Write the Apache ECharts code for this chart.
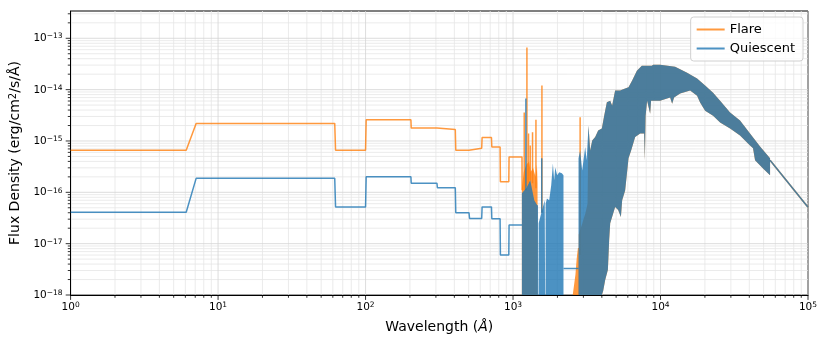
<!DOCTYPE html>
<html>
<head>
<meta charset="utf-8">
<script src="https://cdn.jsdelivr.net/npm/echarts@6/dist/echarts.min.js"></script>
<style>
html, body { margin: 0; padding: 0; background: #fff; }
#chart { width: 830px; height: 346px; }
</style>
</head>
<body>
<div id="chart"></div>
<script>
// values: [wavelength (Å), flux density (erg/cm2/s/Å)]

// binned part of the spectra
var flareSteps = [[1, 6.6e-16], [6.08, 6.6e-16], [7.1, 2.2e-15], [61.8, 2.2e-15], [62.6, 6.6e-16], [100, 6.6e-16],
  [101, 2.6e-15], [203, 2.6e-15], [204, 1.78e-15], [305, 1.78e-15], [307, 1.67e-15], [406, 1.67e-15],
  [409, 6.6e-16], [503, 6.6e-16], [507, 7.2e-16], [613, 7.2e-16], [617, 1.17e-15], [714, 1.17e-15],
  [718, 7.6e-16], [817, 7.6e-16], [821, 1.6e-16], [936, 1.6e-16], [940, 4.9e-16], [1150, 4.9e-16], [1153, 1.1e-16]];
var quietSteps = [[1, 4.1e-17], [6.08, 4.1e-17], [7.1, 1.87e-16], [61.8, 1.87e-16], [62.6, 5.2e-17], [100, 5.2e-17],
  [101, 2.0e-16], [203, 2.0e-16], [204, 1.5e-16], [305, 1.5e-16], [307, 1.23e-16], [406, 1.23e-16],
  [409, 4.0e-17], [503, 4.0e-17], [507, 3.1e-17], [613, 3.1e-17], [617, 5.2e-17], [714, 5.2e-17],
  [718, 3.05e-17], [817, 3.05e-17], [821, 6e-18], [936, 6e-18], [940, 2.3e-17], [1150, 2.3e-17]];
var quietFlat = [[2198, 3.3e-18], [2780, 3.3e-18]];
var tail = [[55300, 4.2e-16], [100000, 5.1e-17]];

// densely sampled part: envelopes of the filled-looking region (1e-18 = axis floor)
var flareBand1 = [[1148, 1e-18], [1148, 1.2e-16], [1182, 2.5e-16], [1234, 3.5e-16], [1284, 4e-16], [1318, 2.5e-16],
  [1367, 3e-16], [1420, 2e-16], [1452, 3.5e-16], [1466, 1.5e-16], [1470, 1e-18]];
var flareBand2 = [[2540, 1e-18], [2650, 2.5e-18], [2700, 5e-18], [2753, 8.2e-18], [2800, 8.2e-18], [2800, 1e-18]];
// flare rises into the shared envelope a little later than the quiescent spectrum
var flareLead = [[2780, 1e-18], [2790, 1.5e-17], [2950, 2.5e-17], [3100, 4e-17], [3200, 6e-17]];
var quietBand1 = [[1148, 1e-18], [1148, 9.6e-17], [1191, 1.09e-16], [1230, 1.2e-16], [1308, 1.71e-16], [1393, 7e-17],
  [1459, 5.6e-17], [1476, 5.6e-17], [1478, 1e-18], [1490, 1e-18], [1492, 2.5e-17], [1553, 3.9e-17], [1640, 7e-17],
  [1650, 1e-18], [1662, 1e-18], [1664, 6e-17], [1698, 7.6e-17], [1759, 7e-17], [1815, 1.37e-16], [1863, 3.66e-16],
  [1901, 1.71e-16], [1932, 3.06e-16], [1992, 2.14e-16], [2056, 2.45e-16], [2143, 2.34e-16], [2198, 2.14e-16], [2198, 1e-18]];
var sharedTop = [[2780, 4.6e-16], [2851, 6.5e-16], [2944, 2.67e-16], [3085, 7.6e-16], [3157, 4.2e-16], [3249, 2.0e-15],
  [3334, 6.5e-16], [3444, 1.02e-15], [3606, 1.19e-15], [3778, 1.6e-15], [4001, 1.75e-15], [4150, 3.1e-15],
  [4327, 5.7e-15], [4558, 6.1e-15], [4699, 4.9e-15], [4924, 9.6e-15], [5323, 9.6e-15], [5756, 1.05e-14],
  [6068, 1.11e-14], [6424, 1.5e-14], [6915, 2.34e-14], [7469, 2.92e-14], [8730, 2.92e-14], [8913, 3.06e-14],
  [9935, 3.06e-14], [12560, 2.8e-14], [15140, 2.14e-14], [17700, 1.64e-14], [20060, 1.2e-14], [22720, 8.7e-15],
  [25350, 6.1e-15], [29630, 3.6e-15], [34600, 2.5e-15], [40450, 1.4e-15], [47300, 7.8e-16], [55300, 4.6e-16]];
var sharedBottom = [[2780, 1e-18], [4001, 1e-18], [4083, 1.2e-18], [4215, 1.96e-18], [4396, 3.1e-18], [4485, 1.17e-17],
  [4558, 2.5e-17], [4924, 5.2e-17], [5162, 4.5e-17], [5386, 3.3e-17], [5495, 7e-17], [5756, 1.09e-16],
  [6068, 4.6e-16], [6320, 6.5e-16], [6730, 1.19e-15], [7276, 1.4e-15], [7745, 1.4e-15], [7830, 4.2e-16],
  [7925, 3.1e-15], [8111, 6.1e-15], [8506, 3.4e-15], [8630, 6.1e-15], [9935, 6.1e-15], [11620, 7.0e-15],
  [11990, 5.3e-15], [12360, 7.0e-15], [13580, 8.4e-15], [15880, 9.6e-15], [17700, 7.6e-15], [18550, 5.6e-15],
  [20060, 3.9e-15], [22720, 3.1e-15], [25350, 2.29e-15], [29630, 1.75e-15], [34600, 1.28e-15], [40450, 8.2e-16],
  [42390, 7.2e-16], [43750, 4.2e-16], [49550, 2.9e-16], [55300, 2.14e-16]];

// narrow emission spikes: [wavelength, from, to]
var flareSpikes = [[1191, 1.1e-16, 3.6e-15], [1242, 1.3e-16, 6.6e-14], [1274, 1.5e-16, 1.4e-15], [1308, 1.7e-16, 8.2e-16],
  [1356, 1.5e-16, 1.48e-15], [1430, 1.2e-16, 2.58e-15], [1570, 4e-17, 1.2e-14], [2851, 6e-18, 2.9e-15]];
var quietSpikes = [[1222, 1.1e-16, 6.7e-15], [1565, 4e-17, 4.6e-16]];

var xMin = 1, xMax = 1e5, yMin = 1e-18, yMax = 3.4e-13;

var FLARE = 'rgba(255,127,14,0.8)';
var QUIET = 'rgba(31,119,180,0.8)';
var FONT = 'DejaVu Sans';

// minor positions 2..9 x 10^n
function minors(lo, hi, max) {
  var out = [];
  for (var d = lo; d <= hi; d++) {
    for (var k = 2; k <= 9; k++) {
      var v = k * Math.pow(10, d);
      if (v < max) out.push(v);
    }
  }
  return out;
}
var xMinor = minors(0, 4, xMax);
var yMinor = minors(-18, -13, yMax);
var xMajor = [1, 10, 100, 1000, 10000, 100000];
var yMajor = [1e-18, 1e-17, 1e-16, 1e-15, 1e-14, 1e-13];

function powLabel(v) {
  var e = Math.log10(v);
  var r = Math.round(e);
  if (Math.abs(e - r) > 1e-6) return '';
  return '{b|10}{s|' + (r < 0 ? '\u2212' + (-r) : r) + '}';
}

function gridSeries(values, dir, color) {
  return {
    type: 'custom', silent: true, z: 0, animation: false,
    data: values.map(function (v) { return dir === 'x' ? [v, yMin] : [xMin, v]; }),
    renderItem: function (params, api) {
      var p = api.coord([api.value(0), api.value(1)]);
      var cs = params.coordSys;
      var shape = dir === 'x'
        ? { x1: p[0], y1: cs.y, x2: p[0], y2: cs.y + cs.height }
        : { x1: cs.x, y1: p[1], x2: cs.x + cs.width, y2: p[1] };
      return { type: 'line', shape: shape, style: { stroke: color, lineWidth: 0.8 } };
    }
  };
}

function tickSeries(values, dir, len) {
  return {
    type: 'custom', silent: true, z: 5, clip: false, animation: false,
    data: values.map(function (v) { return dir === 'x' ? [v, yMin] : [xMin, v]; }),
    renderItem: function (params, api) {
      var p = api.coord([api.value(0), api.value(1)]);
      var shape = dir === 'x'
        ? { x1: p[0], y1: p[1], x2: p[0], y2: p[1] + len }
        : { x1: p[0] - len, y1: p[1], x2: p[0], y2: p[1] };
      return { type: 'line', shape: shape, style: { stroke: '#000', lineWidth: 0.8 } };
    }
  };
}

function bandSeries(name, color, polys, z) {
  return {
    name: name, type: 'custom', z: z, clip: true, silent: true, animation: false,
    data: polys.map(function (p) { return [p[0][0], p[0][1]]; }),
    renderItem: function (params, api) {
      var pts = polys[params.dataIndex].map(function (d) { return api.coord(d); });
      return { type: 'polygon', shape: { points: pts }, style: { fill: color } };
    }
  };
}

function spikeSeries(name, color, spikes, z) {
  return {
    name: name, type: 'custom', z: z, clip: true, silent: true, animation: false,
    data: spikes,
    renderItem: function (params, api) {
      var a = api.coord([api.value(0), api.value(1)]);
      var b = api.coord([api.value(0), api.value(2)]);
      return { type: 'line', shape: { x1: a[0], y1: a[1], x2: b[0], y2: b[1] },
        style: { stroke: color, lineWidth: 1.5 } };
    }
  };
}

function lineSeries(name, color, data, z) {
  return {
    name: name, type: 'line', z: z, data: data, symbol: 'none', animation: false, silent: true,
    lineStyle: { color: color, width: 1.5 }, itemStyle: { color: color }
  };
}

var bottomBack = sharedBottom.slice().reverse();
var quietMain = sharedTop.concat(bottomBack);
var flareMain = flareLead.concat(sharedTop.filter(function (p) { return p[0] >= 3249; })).concat(bottomBack);

var chart = echarts.init(document.getElementById('chart'));

var option = {
  animation: false,
  grid: { left: 70, right: 22, top: 11, bottom: 51, show: true, borderColor: '#000', borderWidth: 1 },
  legend: {
    orient: 'vertical', right: 27, top: 17, itemWidth: 28, itemHeight: 2, itemGap: 6,
    padding: [6, 8, 6, 6], backgroundColor: 'rgba(255,255,255,0.8)',
    borderColor: '#d0d0d0', borderWidth: 1, borderRadius: 3,
    textStyle: { fontSize: 13, fontFamily: FONT, color: '#000' },
    data: [
      { name: 'Flare', icon: 'rect', itemStyle: { color: FLARE } },
      { name: 'Quiescent', icon: 'rect', itemStyle: { color: QUIET } }
    ]
  },
  xAxis: {
    type: 'log', logBase: 10, min: xMin, max: xMax,
    name: 'Wavelength ({i|Å})', nameLocation: 'middle', nameGap: 25,
    nameTextStyle: { fontSize: 14, fontFamily: FONT, color: '#000',
      rich: { i: { fontSize: 14, fontFamily: FONT, fontStyle: 'italic' } } },
    axisLine: { lineStyle: { color: '#000', width: 1 } },
    axisTick: { show: false },
    splitLine: { show: false },
    axisLabel: {
      margin: 6, color: '#000', fontFamily: FONT, formatter: powLabel,
      rich: { b: { fontSize: 10.5, fontFamily: FONT, verticalAlign: 'bottom' },
              s: { fontSize: 7.5, fontFamily: FONT, verticalAlign: 'bottom', padding: [0, 0, 3.5, 0] } }
    }
  },
  yAxis: {
    type: 'log', logBase: 10, min: yMin, max: yMax,
    name: 'Flux Density (erg/cm{s|2}/s/Å)', nameLocation: 'middle', nameGap: 32, nameRotate: 90,
    nameTextStyle: { fontSize: 14, fontFamily: FONT, color: '#000',
      rich: { s: { fontSize: 10, fontFamily: FONT, padding: [0, 0, 5, 0] } } },
    axisLine: { lineStyle: { color: '#000', width: 1 } },
    axisTick: { show: false },
    splitLine: { show: false },
    axisLabel: {
      margin: 8, color: '#000', fontFamily: FONT, formatter: powLabel,
      rich: { b: { fontSize: 10.5, fontFamily: FONT, verticalAlign: 'bottom' },
              s: { fontSize: 7.5, fontFamily: FONT, verticalAlign: 'bottom', padding: [0, 0, 3.5, 0] } }
    }
  },
  series: [
    gridSeries(xMinor, 'x', '#e6e6e6'),
    gridSeries(yMinor, 'y', '#e6e6e6'),
    gridSeries(xMajor, 'x', '#d4d4d4'),
    gridSeries(yMajor, 'y', '#d4d4d4'),
    tickSeries(xMajor, 'x', 4.9),
    tickSeries(yMajor, 'y', 4.9),
    tickSeries(xMinor, 'x', 2.8),
    tickSeries(yMinor, 'y', 2.8),

    lineSeries('Flare', FLARE, flareSteps, 2),
    bandSeries('Flare', FLARE, [flareBand1, flareBand2, flareMain], 2),
    spikeSeries('Flare', FLARE, flareSpikes, 2),
    lineSeries('Flare', FLARE, tail, 2),

    lineSeries('Quiescent', QUIET, quietSteps, 3),
    lineSeries('Quiescent', QUIET, quietFlat, 3),
    bandSeries('Quiescent', QUIET, [quietBand1, quietMain], 3),
    spikeSeries('Quiescent', QUIET, quietSpikes, 3),
    lineSeries('Quiescent', QUIET, tail, 3)
  ]
};

chart.setOption(option);
</script>
</body>
</html>
